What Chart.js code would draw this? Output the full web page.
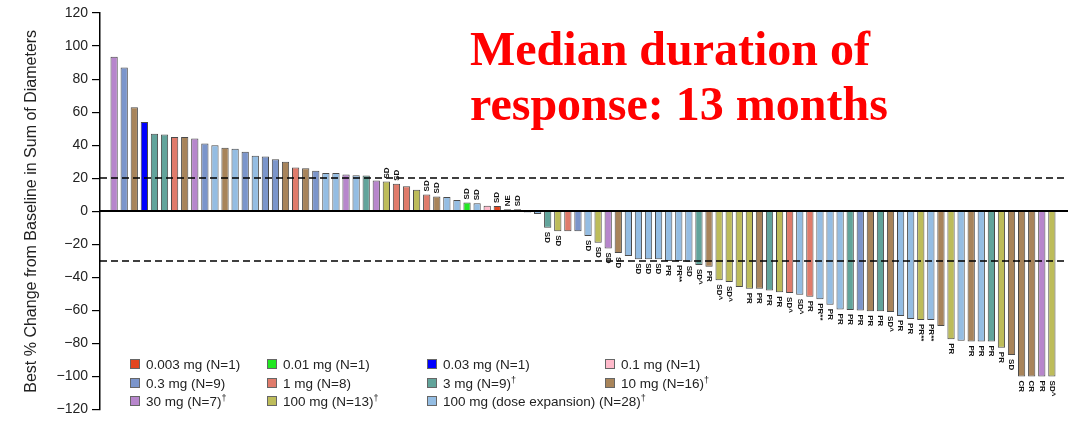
<!DOCTYPE html>
<html lang="en">
<head>
<meta charset="UTF-8">
<title>Best % Change from Baseline in Sum of Diameters</title>
<script src="https://cdn.jsdelivr.net/npm/chart.js"></script>
<style>
  body { margin: 0; background: #fff; }
  .wrap { position: relative; width: 1072px; height: 422px; }
  .note {
    position: absolute; left: 470px; top: 21px;
    font: bold 48px "Liberation Serif", "Times New Roman", serif;
    color: #f00; line-height: 55px; white-space: nowrap;
  }
  .legend { font: 13.5px "Liberation Sans", Arial, sans-serif; color: #222; }
  .legend .item { position: absolute; white-space: nowrap; line-height: 16px; }
  .legend .sw {
    display: inline-block; width: 8px; height: 8px; border: 1px solid #666;
    margin-right: 6px; vertical-align: 0px;
  }
  .legend sup { font-size: 9px; line-height: 0; vertical-align: 5px; }
</style>
</head>
<body>
<div class="wrap">
  <canvas id="waterfall" width="1072" height="422"></canvas>
  <div class="note">Median duration of<br>response: 13 months</div>
  <div class="legend" id="legend"></div>
</div>
<script>
// dose cohorts (legend order)
const doseLabels = [
  '0.003 mg (N=1)', '0.01 mg (N=1)', '0.03 mg (N=1)', '0.1 mg (N=1)',
  '0.3 mg (N=9)', '1 mg (N=8)', '3 mg (N=9)\u2020', '10 mg (N=16)\u2020',
  '30 mg (N=7)\u2020', '100 mg (N=13)\u2020', '100 mg (dose expansion) (N=28)\u2020'
];
const doseColors = [
  '#E2451F', '#22E822', '#0000FF', '#FFBACB',
  '#7B95CB', '#E07B6B', '#62A49B', '#A8845A',
  '#B786CC', '#BDBC5A', '#94BDE3'
];

// one entry per patient, sorted by best % change
const bestChange = [
  93.5, 87, 63, 54, 47, 46.5, 45, 45, 44, 41,
  40, 38.5, 37.8, 36, 33.6, 33.2, 31.5, 30, 26.5, 26,
  24.5, 23.2, 23.2, 22.2, 21.8, 21.6, 18.6, 18, 16.6, 15.2,
  13, 10.2, 9, 8.6, 6.8, 5.4, 4.8, 3.4, 3.2, 1.2,
  1.2, -0.8, -1.6, -10, -12, -12, -12, -15, -19, -22.5,
  -25.3, -27, -29, -29, -29, -30, -30, -30.5, -32.5, -33.5,
  -41.8, -42.8, -45.8, -46.8, -46.8, -48, -49, -49.5, -50.5, -51.7,
  -53.2, -56.6, -59.5, -59.7, -60, -60.5, -60.5, -61, -63.4, -65.2,
  -65.8, -65.8, -69.4, -77.4, -78.4, -78.8, -78.8, -78.8, -82.6, -87,
  -100, -100, -100, -100
];
const doseGroup = [
  8, 4, 7, 2, 6, 6, 5, 7, 8, 4,
  10, 7, 10, 4, 10, 4, 4, 7, 5, 7,
  4, 10, 10, 8, 10, 6, 8, 9, 5, 5,
  9, 5, 7, 10, 10, 1, 10, 3, 0, 8,
  4, 10, 10, 6, 9, 5, 4, 10, 9, 8,
  7, 10, 10, 10, 10, 10, 10, 10, 6, 7,
  9, 9, 9, 9, 7, 6, 9, 5, 10, 5,
  10, 10, 10, 6, 4, 7, 6, 7, 10, 10,
  9, 10, 7, 9, 10, 7, 10, 6, 9, 7,
  7, 7, 8, 9
];
const response = [
  '', '', '', '', '', '', '', '', '', '',
  '', '', '', '', '', '', '', '', '', '',
  '', '', '', '', '', '', '', 'SD', 'SD', '',
  '', 'SD', 'SD', '', '', 'SD', 'SD', '', 'SD', 'NE',
  'SD', '', '', 'SD', 'SD', '', '', 'SD', 'SD', 'SD',
  'SD', '', 'SD', 'SD', 'SD', 'PR', 'PR**', 'SD', 'SD^', 'PR',
  'SD^', 'SD^', '', 'PR', 'PR', 'PR', 'PR', 'SD^', 'SD^', 'PR',
  'PR**', 'PR', 'PR', 'PR', 'PR', 'PR', 'PR', 'SD^', 'PR', 'PR',
  'PR**', 'PR**', '', 'PR', '', 'PR', 'PR', 'PR', 'PR', 'SD',
  'CR', 'CR', 'PR', 'SD^'
];
const cutoffs = [20, -30];

// legend as html, 4 columns
const legendCols = [130, 267, 427, 605];
const legendRows = [357, 376, 394];
const legendEl = document.getElementById('legend');
doseLabels.forEach((label, i) => {
  const item = document.createElement('div');
  item.className = 'item';
  item.style.left = legendCols[i % 4] + 'px';
  item.style.top = legendRows[Math.floor(i / 4)] + 'px';
  item.innerHTML = '<span class="sw" style="background:' + doseColors[i] + '"></span>' +
    label.replace('\u2020', '<sup>\u2020</sup>');
  legendEl.appendChild(item);
});

const refLines = {
  id: 'refLines',
  afterDatasetsDraw(chart) {
    const { ctx, chartArea: a, scales: { y } } = chart;
    ctx.save();
    ctx.strokeStyle = '#000';
    ctx.lineWidth = 1.5;
    ctx.setLineDash([7, 4]);
    cutoffs.forEach(v => {
      const py = Math.round(y.getPixelForValue(v));
      ctx.beginPath();
      ctx.moveTo(a.left, py);
      ctx.lineTo(a.right, py);
      ctx.stroke();
    });
    ctx.setLineDash([]);
    ctx.lineWidth = 2;
    const y0 = Math.round(y.getPixelForValue(0));
    ctx.beginPath();
    ctx.moveTo(a.left, y0);
    ctx.lineTo(a.right, y0);
    ctx.stroke();

    // response labels at the end of each bar
    const meta = chart.getDatasetMeta(0);
    ctx.font = 'bold 8px "Liberation Sans", Arial, sans-serif';
    ctx.fillStyle = '#111';
    ctx.textBaseline = 'middle';
    ctx.textAlign = 'left';
    meta.data.forEach((bar, i) => {
      const txt = response[i];
      if (!txt) return;
      ctx.save();
      ctx.translate(bar.x, bar.y);
      if (bestChange[i] >= 0) {
        ctx.rotate(-Math.PI / 2);
        ctx.fillText(txt, 3, 0);
      } else {
        ctx.rotate(Math.PI / 2);
        ctx.fillText(txt, 4, 0);
      }
      ctx.restore();
    });
    ctx.restore();
  }
};

const ctx = document.getElementById('waterfall').getContext('2d');
new Chart(ctx, {
  type: 'bar',
  data: {
    datasets: [{
      data: bestChange.map((v, i) => ({ x: i + 1, y: v })),
      backgroundColor: doseGroup.map(g => doseColors[g]),
      borderColor: '#4a4a4a',
      borderWidth: 1,
      barPercentage: 0.72,
      categoryPercentage: 1
    }]
  },
  options: {
    responsive: false,
    animation: false,
    layout: { padding: { top: 13, right: 4, bottom: 9, left: 0 } },
    plugins: {
      legend: { display: false },
      tooltip: { enabled: false }
    },
    scales: {
      x: { type: 'linear', display: false, min: -0.4, max: 95.6, offset: false },
      y: {
        min: -120,
        max: 120,
        afterFit: s => { s.width = 100; },
        ticks: {
          stepSize: 20,
          padding: 4,
          color: '#222',
          font: { size: 14, family: '"Liberation Sans", Arial, sans-serif' },
          callback: v => v < 0 ? '\u2212' + Math.abs(v) : v
        },
        grid: { drawOnChartArea: false, drawTicks: true, tickLength: 8, color: '#000', lineWidth: 1.2 },
        border: { color: '#000', width: 1.5 },
        title: {
          display: true,
          text: 'Best % Change from Baseline in Sum of Diameters',
          color: '#222',
          font: { size: 16, family: '"Liberation Sans", Arial, sans-serif' },
          padding: { top: 22, bottom: 0 }
        }
      }
    }
  },
  plugins: [refLines]
});
</script>
</body>
</html>
